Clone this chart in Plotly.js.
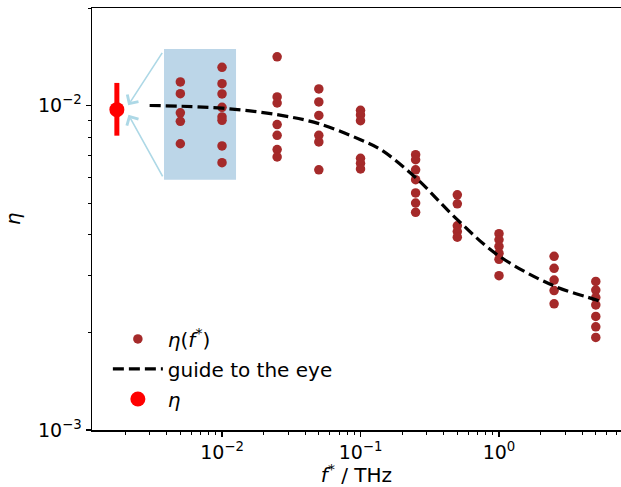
<!DOCTYPE html>
<html><head><meta charset="utf-8">
<script src="https://cdn.plot.ly/plotly-3.0.1.min.js"></script>
<style>html,body{margin:0;padding:0;background:#fff}</style>
</head><body><div id="chart" style="width:621px;height:487px"></div>
<script>
// frequencies f* (THz) of each measured column
const freqs = [0.005, 0.01, 0.025, 0.05, 0.1, 0.25, 0.5, 1, 2.5, 5];
// eta values read for each frequency column
const eta_f0005 = [0.01183, 0.01089, 0.00950, 0.00895, 0.00763];
const eta_f001  = [0.01313, 0.01169, 0.01087, 0.00988, 0.00923, 0.00901, 0.00751, 0.00667];
const eta_f0025 = [0.01414, 0.01064, 0.01019, 0.00874, 0.00810, 0.00732, 0.00695];
const eta_f005  = [0.01126, 0.01027, 0.00933, 0.00810, 0.00773, 0.00634];
const eta_f01   = [0.00967, 0.00936, 0.00899, 0.00688, 0.00664, 0.00638];
const eta_f025  = [0.00706, 0.00681, 0.00634, 0.00591, 0.00538, 0.00501, 0.00469];
const eta_f05   = [0.00531, 0.00498, 0.00426, 0.00409, 0.00393];
const eta_f1    = [0.00403, 0.00386, 0.00368, 0.00351, 0.00336, 0.00299];
const eta_f25   = [0.00343, 0.00315, 0.00290, 0.00269, 0.00245];
const eta_f5    = [0.00287, 0.00270, 0.00256, 0.00243, 0.00224, 0.00208, 0.00193];
const etaColumns = [eta_f0005, eta_f001, eta_f0025, eta_f005, eta_f01, eta_f025, eta_f05, eta_f1, eta_f25, eta_f5];

// guide to the eye
const guideF   = [0.003, 0.005, 0.01, 0.025, 0.05, 0.1, 0.14, 0.25, 0.5, 1, 2.5, 5, 5.5];
const guideEta = [0.01001, 0.00996, 0.00982, 0.00938, 0.00880, 0.00785, 0.00732, 0.00600, 0.00445, 0.00344, 0.00278, 0.00252, 0.00248];

// static eta with error bar
const etaF = [0.00174];
const etaVal = [0.00972];
const etaErrPlus = [0.00203];
const etaErrMinus = [0.00164];

// tick labels
const xTickVals = [0.01, 0.1, 1];
const xTickText = ['10<sup>−2</sup>', '10<sup>−1</sup>', '10<sup>0</sup>'];
const yTickVals = [0.001, 0.01];
const yTickText = ['10<sup>−3</sup>', '10<sup>−2</sup>'];
const xMinorVals = [0.002, 0.003, 0.004, 0.005, 0.006, 0.007, 0.008, 0.009,
                    0.02, 0.03, 0.04, 0.05, 0.06, 0.07, 0.08, 0.09,
                    0.2, 0.3, 0.4, 0.5, 0.6, 0.7, 0.8, 0.9,
                    2, 3, 4, 5, 6, 7];
const yMinorVals = [0.002, 0.003, 0.004, 0.005, 0.006, 0.007, 0.008, 0.009, 0.02];

const xs = [], ys = [];
etaColumns.forEach((col, i) => col.forEach(v => { xs.push(freqs[i]); ys.push(v); }));

const FONT = 'DejaVu Sans, sans-serif';

const traces = [
  {x: xs, y: ys, mode: 'markers', type: 'scatter', name: '<i>η</i>(<i>f</i><sup>*</sup>)',
   marker: {color: '#a52a2a', size: 9.5}, legendgroup: 'a', cliponaxis: false},
  {x: guideF, y: guideEta, mode: 'lines', type: 'scatter', name: 'guide to the eye',
   line: {color: '#000', width: 3.2, dash: '11px,5px', shape: 'spline'}, legendgroup: 'b'},
  {x: etaF, y: etaVal, mode: 'markers', type: 'scatter', name: '<i>η</i>',
   marker: {color: '#ff0000', size: 15},
   error_y: {type: 'data', symmetric: false, array: etaErrPlus, arrayminus: etaErrMinus,
             color: '#ff0000', thickness: 5, width: 0},
   legendgroup: 'c', cliponaxis: false}
];

const axisCommon = {
  type: 'log', tickmode: 'array', showgrid: false, zeroline: false, showline: true,
  linecolor: '#000', linewidth: 1.5, ticks: 'outside', ticklen: 5, tickwidth: 1.3, tickcolor: '#000',
  tickfont: {family: FONT, size: 19}
};

const layout = {
  width: 621, height: 487,
  margin: {l: 92, r: 0, t: 8, b: 57},
  paper_bgcolor: '#fff', plot_bgcolor: '#fff',
  font: {family: FONT, size: 16, color: '#000'},
  showlegend: true,
  legend: {x: 0.03, y: 0.262, xanchor: 'left', yanchor: 'top', bgcolor: 'rgba(0,0,0,0)',
           font: {family: FONT, size: 20}, traceorder: 'grouped', tracegroupgap: 1, itemwidth: 50},
  xaxis: Object.assign({}, axisCommon, {
          range: [-2.939, 0.881], tickvals: xTickVals, ticktext: xTickText, mirror: true,
          minor: {tickmode: 'array', tickvals: xMinorVals, ticks: 'outside', ticklen: 3, tickwidth: 1, tickcolor: '#000', showgrid: false},
          title: {text: '<i>f</i><sup>*</sup> / THz', font: {family: FONT, size: 20}, standoff: 4}}),
  yaxis: Object.assign({}, axisCommon, {
          range: [-3, -1.69897], tickvals: yTickVals, ticktext: yTickText, mirror: false,
          minor: {tickmode: 'array', tickvals: yMinorVals, ticks: 'outside', ticklen: 3, tickwidth: 1, tickcolor: '#000', showgrid: false},
          title: {text: '<i>η</i>', font: {family: FONT, size: 20}, standoff: 12}}),
  shapes: [
    {type: 'rect', xref: 'x', yref: 'y', x0: 0.00381, x1: 0.01262, y0: 0.00591, y1: 0.01496,
     fillcolor: '#bcd6e8', line: {width: 0}, layer: 'below'}
  ],
  annotations: [
    {xref: 'x', yref: 'y', x: Math.log10(0.00210), y: Math.log10(0.01002), ax: 35, ay: -54,
     axref: 'pixel', ayref: 'pixel', showarrow: true, arrowhead: 4, arrowsize: 1.6, arrowwidth: 1.6,
     arrowcolor: '#add8e6', text: ''},
    {xref: 'x', yref: 'y', x: Math.log10(0.00211), y: Math.log10(0.00937), ax: 35, ay: 63,
     axref: 'pixel', ayref: 'pixel', showarrow: true, arrowhead: 4, arrowsize: 1.6, arrowwidth: 1.6,
     arrowcolor: '#add8e6', text: ''}
  ]
};

Plotly.newPlot('chart', traces, layout, {displayModeBar: false, staticPlot: true});
</script></body></html>
